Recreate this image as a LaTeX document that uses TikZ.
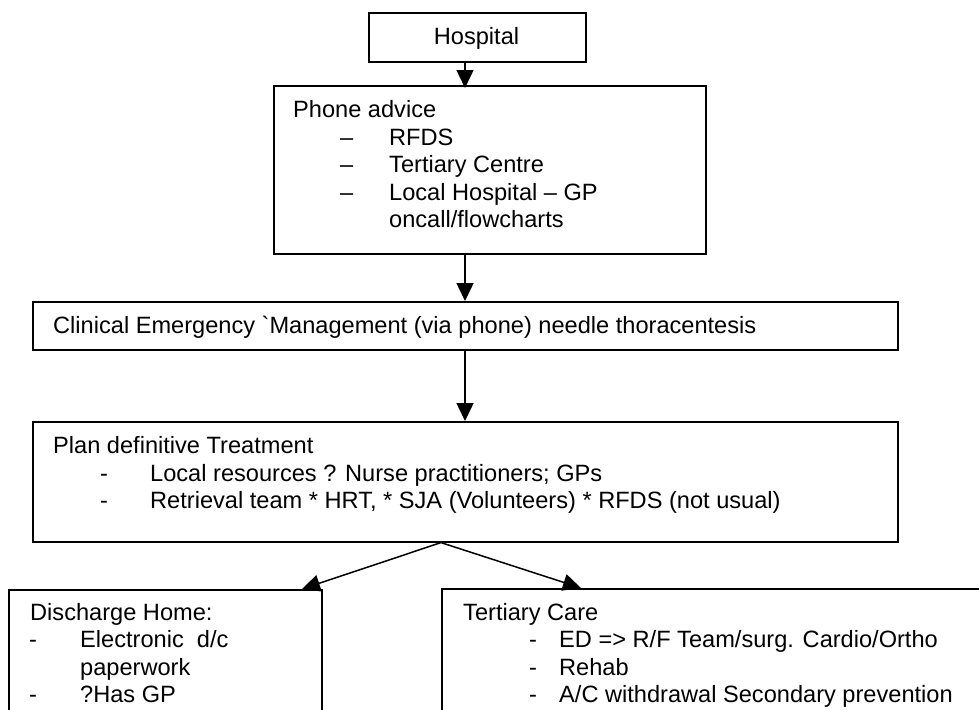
\documentclass[tikz,border=0pt]{standalone}
\usepackage{fontspec}
\newfontfamily\af{Liberation Sans}
\usetikzlibrary{arrows.meta}
\begin{document}
\begin{tikzpicture}[x=1pt,y=-1pt,
  box/.style={draw=black, line width=1.6pt, rectangle, inner sep=0pt, anchor=north west},
  txt/.style={anchor=base west, inner sep=0pt, font=\af\fontsize{23.6}{27.5}\selectfont},
  arr/.style={line width=1.5pt, -{Triangle[length=18pt,width=17pt]}}]
\clip (0,0) rectangle (979,709);
\fill[white] (0,0) rectangle (979,709);
% boxes
\node[box, minimum width=217pt, minimum height=49pt] (hosp) at (368,12) {};
\node[box, minimum width=432pt, minimum height=168pt] (phone) at (273,85) {};
\node[box, minimum width=865pt, minimum height=48pt] (clin) at (32,301) {};
\node[box, minimum width=865pt, minimum height=120pt] (plan) at (32,421) {};
\node[box, minimum width=313pt, minimum height=200pt] (dis) at (8,589) {};
\node[box, minimum width=600pt, minimum height=200pt] (ter) at (441,588) {};
% texts
\node[txt, anchor=base] (thosp) at (476.5,45) {Hospital};
\node[txt] (tph) at (293,117) {Phone advice};
\node[txt] (d1) at (340,145) {–};
\node[txt] (d2) at (340,172.5) {–};
\node[txt] (d3) at (340,200) {–};
\node[txt] (p1) at (389,145) {RFDS};
\node[txt] (p2) at (389,172.5) {Tertiary Centre};
\node[txt] (p3) at (389,200) {Local Hospital – GP};
\node[txt] (p4) at (389,227.5) {oncall/flowcharts};
\node[txt] (tcl) at (53,333) {Clinical Emergency `Management (via phone) needle thoracentesis};
\node[txt] (tpl) at (53,453) {Plan definitive Treatment};
\node[txt] (h1) at (100,481) {-};
\node[txt] (h2) at (100,508.5) {-};
\node[txt] (l1) at (150,481) {Local resources ? Nurse practitioners; GPs};
\node[txt] (l2) at (150,508.5) {Retrieval team * HRT, * SJA (Volunteers) * RFDS (not usual)};
\node[txt] (tdh) at (30,620) {Discharge Home:};
\node[txt] (h3) at (29,647.5) {-};
\node[txt] (h4) at (29,702.5) {-};
\node[txt] (e1) at (80,647.5) {Electronic\ \ d/c};
\node[txt] (e2) at (80,675) {paperwork};
\node[txt] (e3) at (80,702.5) {?Has GP};
\node[txt] (ttc) at (463,620) {Tertiary Care};
\node[txt] (h5) at (529,647.5) {-};
\node[txt] (h6) at (529,675) {-};
\node[txt] (h7) at (529,702.5) {-};
\node[txt] (t1) at (559,647.5) {ED => R/F Team/surg. Cardio/Ortho};
\node[txt] (t2) at (559,675) {Rehab};
\node[txt] (t3) at (559,702.5) {A/C withdrawal Secondary prevention};
% arrows
\coordinate (c1) at (465,0);
\coordinate (c2) at (441,0);
\coordinate (c3) at (302,0);
\coordinate (c4) at (581,0);
\draw[arr] (hosp.south -| c1) -- ([yshift=-3pt]phone.north -| c1);
\draw[arr] (phone.south -| c1) -- (clin.north -| c1);
\draw[arr] (clin.south -| c1) -- (plan.north -| c1);
\draw[arr] (plan.south -| c2) -- (dis.north -| c3);
\draw[arr] (plan.south -| c2) -- (ter.north -| c4);
\end{tikzpicture}
\end{document}
